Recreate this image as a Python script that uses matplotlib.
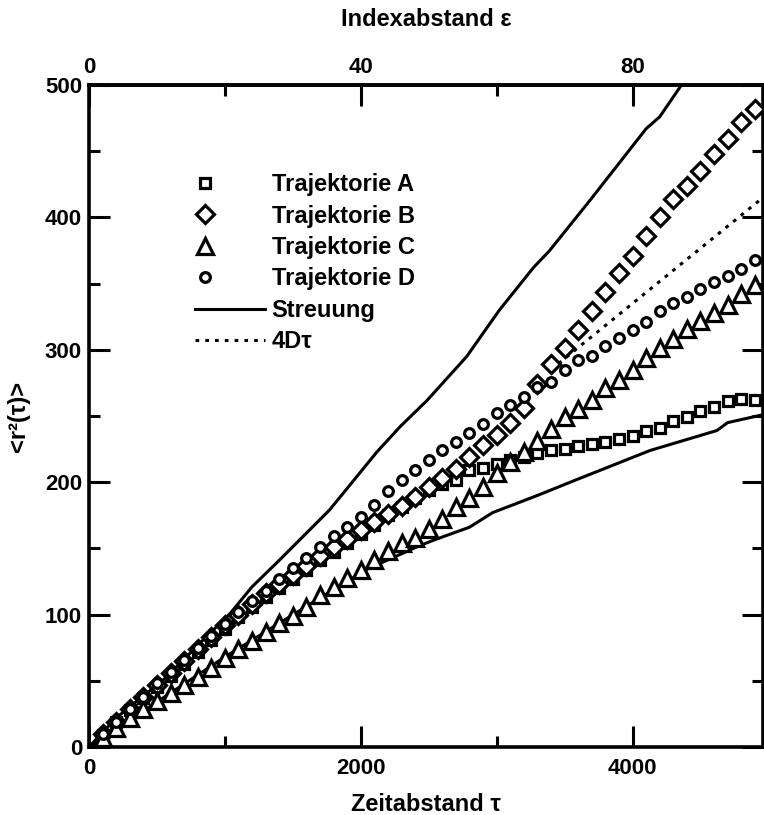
import matplotlib
matplotlib.use("Agg")
import matplotlib.pyplot as plt
from matplotlib.legend_handler import HandlerLine2D
from matplotlib.ticker import MultipleLocator, FixedLocator

plt.rcParams['font.family'] = ['Liberation Sans', 'DejaVu Sans']
plt.rcParams['font.weight'] = 'bold'

#---------------Data-------------------------------------------------

tau = [100 * k for k in range(1, 50)]

traj_a = [9, 19, 28, 37, 45, 54, 63, 72, 81, 89,
          98, 106, 113, 120, 127, 134, 141, 147, 154, 161,
          168, 175, 181, 188, 194, 199, 202, 209, 211, 214,
          217, 219, 222, 224, 225, 227, 229, 230, 233, 235,
          239, 241, 246, 249, 254, 257, 261, 263, 262]

traj_b = [10, 19, 29, 38, 47, 56, 65, 74, 83, 92,
          100, 108, 116, 123, 130, 137, 144, 151, 157, 164,
          170, 176, 182, 189, 196, 203, 210, 219, 228, 236,
          245, 256, 274, 289, 301, 315, 329, 344, 358, 371,
          386, 400, 414, 424, 435, 448, 459, 472, 482]

traj_c = [7, 14, 22, 29, 35, 41, 47, 53, 60, 67,
          74, 80, 87, 94, 99, 106, 115, 121, 128, 134,
          141, 148, 154, 158, 165, 172, 181, 188, 196, 207,
          215, 223, 231, 240, 249, 255, 262, 271, 277, 285,
          294, 301, 308, 316, 322, 328, 334, 342, 349]

traj_d = [10, 19, 29, 38, 48, 57, 66, 75, 84, 93,
          102, 110, 118, 127, 135, 143, 151, 159, 166, 174,
          183, 193, 202, 209, 217, 224, 230, 237, 244, 252,
          258, 264, 272, 276, 285, 292, 295, 303, 309, 315,
          321, 329, 335, 340, 346, 351, 356, 361, 368]

# Streuung (upper and lower bound)
tau_up = [0, 200, 550, 900, 1040, 1200, 1400, 1770, 2120, 2290,
          2490, 2780, 3020, 3270, 3390, 3680, 4100, 4200, 4360, 4450]
streu_up = [0, 22, 51, 87, 101, 121, 141, 179, 223, 242,
            262, 295, 330, 362, 375, 412, 467, 476, 500, 512]

tau_low = [0, 500, 1000, 1550, 2040, 2410, 2530, 2800, 2970, 3300,
           3590, 4130, 4620, 4700, 4960]
streu_low = [0, 34, 68, 103, 134, 151, 156, 166, 177, 190,
             202, 224, 239, 245, 251]

# 4D tau (only the visible part)
tau_4d = [3400, 4960]
val_4d = [285, 415]

labels = ["Trajektorie A", "Trajektorie B", "Trajektorie C", "Trajektorie D",
          "Streuung", "4D\u03c4"]


#---------------Legend handler: marker near left end of handle-------

class LeftMarker(HandlerLine2D):
    def create_artists(self, *args, **kwargs):
        arts = super().create_artists(*args, **kwargs)
        line = arts[0]
        x = line.get_xdata()
        line.set_xdata([x[0], x[0] + 0.15 * (x[-1] - x[0]), x[-1]])
        return arts


#---------------Plot-------------------------------------------------

fig = plt.figure(figsize=(7.64, 8.15), dpi=100)
ax = fig.add_axes([89 / 764, 68 / 815, 674 / 764, 662 / 815])

mk = dict(linestyle='none', markerfacecolor='white', markeredgecolor='black',
          markeredgewidth=2.3, zorder=3)

ha, = ax.plot(tau, traj_a, marker='s', markersize=6.5, **mk)
hb, = ax.plot(tau, traj_b, marker='D', markersize=9.5, **mk)
hc, = ax.plot(tau, traj_c, marker='^', markersize=11, **mk)
hd, = ax.plot(tau, traj_d, marker='o', markersize=7, **mk)
hs, = ax.plot(tau_up, streu_up, color='black', lw=2.2, zorder=2)
ax.plot(tau_low, streu_low, color='black', lw=2.2, zorder=2)
h4, = ax.plot(tau_4d, val_4d, color='black', lw=2.2, linestyle=(0, (1.2, 2.0)), zorder=1)

ax.set_xlim(0, 4960)
ax.set_ylim(0, 500)

for s in ax.spines.values():
    s.set_linewidth(2.6)

ax.xaxis.set_major_locator(MultipleLocator(2000))
ax.xaxis.set_minor_locator(MultipleLocator(1000))
ax.yaxis.set_major_locator(MultipleLocator(100))
ax.yaxis.set_minor_locator(MultipleLocator(50))
ax.tick_params(which='major', direction='in', length=15, width=2.2,
               right=True, labelsize=16, pad=5)
ax.tick_params(which='minor', direction='in', length=8, width=2.2, right=True)
ax.tick_params(axis='x', pad=8)

ax.set_xlabel("Zeitabstand \u03c4", fontsize=17, fontweight='bold', labelpad=10)
ax.set_ylabel("<r\u00b2(\u03c4)>", fontsize=17, fontweight='bold')
ax.yaxis.set_label_coords(-0.088, 0.5)

top = ax.secondary_xaxis('top', functions=(lambda t: t / 50.0, lambda e: e * 50.0))
top.xaxis.set_major_locator(FixedLocator([0, 40, 80]))
top.xaxis.set_minor_locator(FixedLocator([20, 60]))
top.tick_params(which='major', direction='in', length=15, width=2.2, labelsize=16, pad=5)
top.tick_params(which='minor', direction='in', length=8, width=2.2)
top.spines['top'].set_linewidth(2.6)
top.set_xlabel("Indexabstand \u03b5", fontsize=17, fontweight='bold', labelpad=22)

leg = ax.legend([ha, hb, hc, hd, hs, h4], labels, loc='upper left',
                bbox_to_anchor=((195 - 89) / 674, (747 - 173) / 662),
                frameon=False, fontsize=17, handlelength=2.95, handletextpad=0.3,
                labelspacing=0.36, borderpad=0, borderaxespad=0,
                handler_map={ha: LeftMarker(), hb: LeftMarker(),
                             hc: LeftMarker(), hd: LeftMarker()})

fig.savefig("out.png", dpi=100)
